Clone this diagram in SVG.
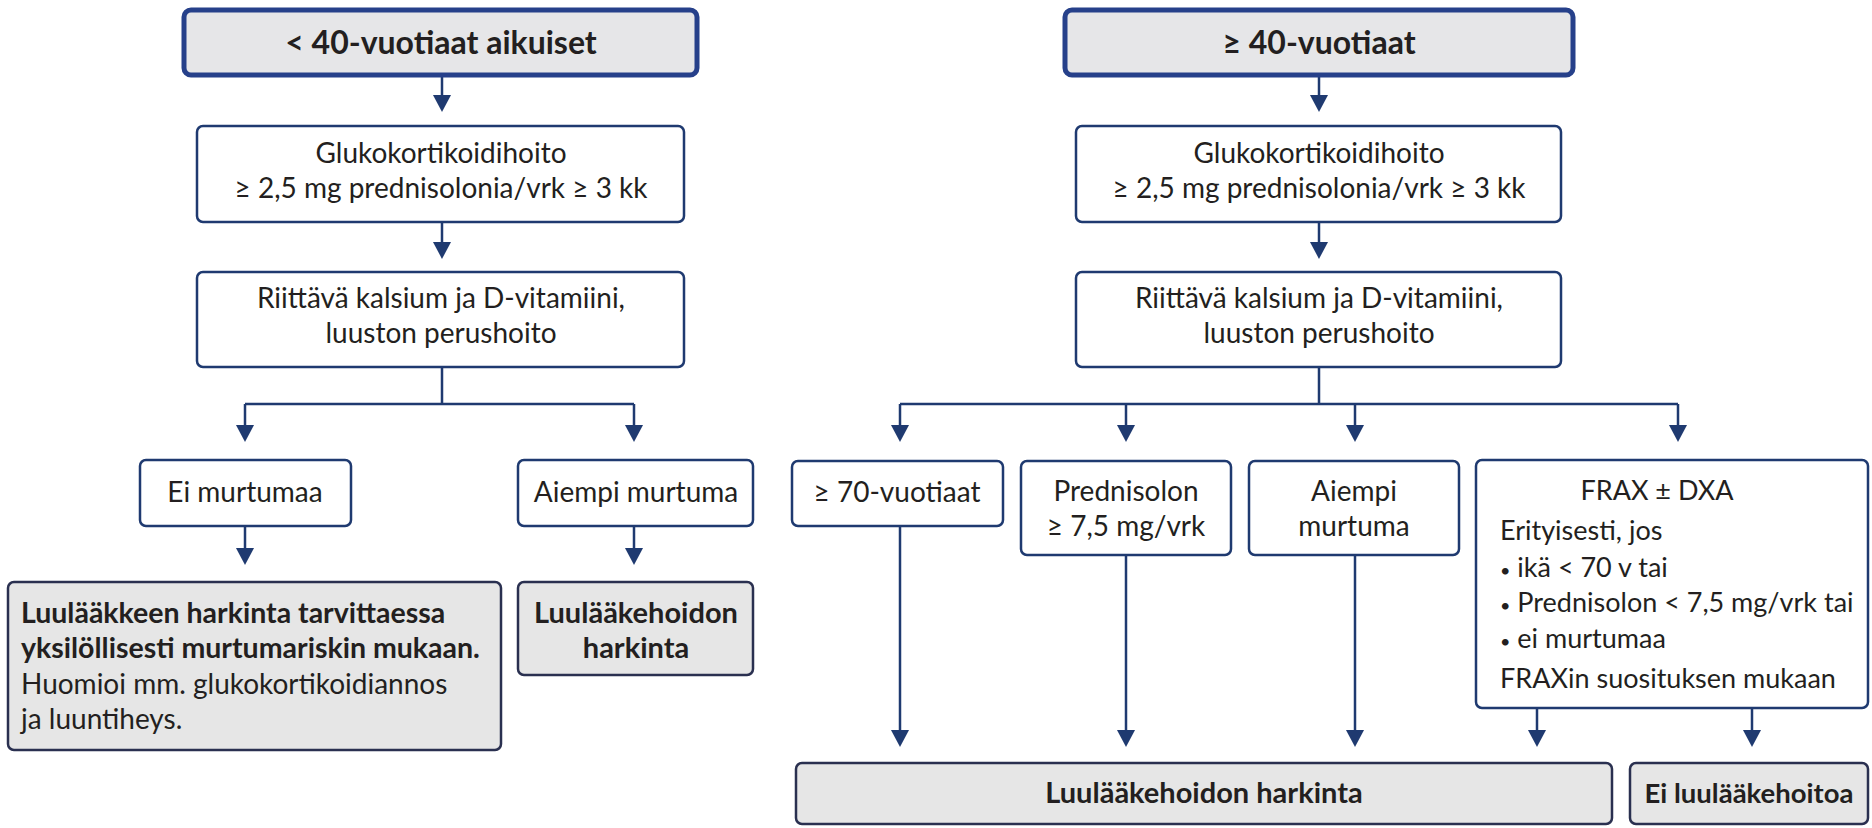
<svg xmlns="http://www.w3.org/2000/svg" width="1872" height="828" viewBox="0 0 1872 828">
<defs>
<style>
.box{fill:#ffffff;stroke:#1f3a70;stroke-width:2.5}
.head{fill:#e6e6e8;stroke:#26408a;stroke-width:5}
.res{fill:#e6e6e6;stroke:#2a3050;stroke-width:2.5}
.t{font-family:Lato,"Open Sans","Liberation Sans",sans-serif;font-size:28px;fill:#231f20}
.f{font-size:27px}
.b{font-weight:700;font-size:29px}
.bb{font-size:28.5px}
.c{text-anchor:middle}
.hd{font-size:32px}
.bl{font-size:18px}
.conn{stroke:#1f3a70;stroke-width:2.5;fill:none}
</style>
</defs>
<rect width="1872" height="828" fill="#ffffff"/>

<g id="connectors" class="conn">
<path d="M442,75 V100"/>
<path d="M442,222 V247"/>
<path d="M442,367 V404 M245,404 H634"/>
<path d="M245,404 V430"/>
<path d="M634,404 V430"/>
<path d="M245,526 V553"/>
<path d="M634,526 V553"/>
<path d="M1319,75 V100"/>
<path d="M1319,222 V247"/>
<path d="M1319,367 V404 M900,404 H1678"/>
<path d="M900,404 V430"/>
<path d="M1126,404 V430"/>
<path d="M1355,404 V430"/>
<path d="M1678,404 V430"/>
<path d="M900,526 V735"/>
<path d="M1126,555 V735"/>
<path d="M1355,555 V735"/>
<path d="M1537,708 V735"/>
<path d="M1752,708 V735"/>
</g>
<g id="arrowheads" fill="#1f3a70">
<path d="M433,95 H451 L442,112 Z"/>
<path d="M433,242 H451 L442,259 Z"/>
<path d="M236,425 H254 L245,442 Z"/>
<path d="M625,425 H643 L634,442 Z"/>
<path d="M236,548 H254 L245,565 Z"/>
<path d="M625,548 H643 L634,565 Z"/>
<path d="M1310,95 H1328 L1319,112 Z"/>
<path d="M1310,242 H1328 L1319,259 Z"/>
<path d="M891,425 H909 L900,442 Z"/>
<path d="M1117,425 H1135 L1126,442 Z"/>
<path d="M1346,425 H1364 L1355,442 Z"/>
<path d="M1669,425 H1687 L1678,442 Z"/>
<path d="M891,730 H909 L900,747 Z"/>
<path d="M1117,730 H1135 L1126,747 Z"/>
<path d="M1346,730 H1364 L1355,747 Z"/>
<path d="M1528,730 H1546 L1537,747 Z"/>
<path d="M1743,730 H1761 L1752,747 Z"/>
</g>

<g id="n-left-head">
<rect class="head" x="184" y="10" width="513" height="65" rx="7"/>
<text class="t b c hd" x="441" y="54">&lt; 40-vuotiaat aikuiset</text>
</g>
<g id="n-left-gluko">
<rect class="box" x="197" y="126" width="487" height="96" rx="6"/>
<text class="t c" x="441" y="163">Glukokortikoidihoito</text>
<text class="t c" x="441" y="198">≥ 2,5 mg prednisolonia/vrk ≥ 3 kk</text>
</g>
<g id="n-left-basic">
<rect class="box" x="197" y="272" width="487" height="95" rx="6"/>
<text class="t c" x="441" y="308">Riittävä kalsium ja D-vitamiini,</text>
<text class="t c" x="441" y="343">luuston perushoito</text>
</g>
<g id="n-left-nofrac">
<rect class="box" x="140" y="460" width="211" height="66" rx="6"/>
<text class="t c" x="245" y="502">Ei murtumaa</text>
</g>
<g id="n-left-prevfrac">
<rect class="box" x="518" y="460" width="235" height="66" rx="6"/>
<text class="t c" x="636" y="502">Aiempi murtuma</text>
</g>
<g id="n-left-indiv">
<rect class="res" x="8" y="582" width="493" height="168" rx="6"/>
<text class="t b bb" x="21" y="623">Luulääkkeen harkinta tarvittaessa</text>
<text class="t b bb" x="21" y="658">yksilöllisesti murtumariskin mukaan.</text>
<text class="t" x="21" y="694">Huomioi mm. glukokortikoidiannos</text>
<text class="t" x="21" y="729">ja luuntiheys.</text>
</g>
<g id="n-left-consider">
<rect class="res" x="518" y="582" width="235" height="93" rx="6"/>
<text class="t b c" x="636" y="623">Luulääkehoidon</text>
<text class="t b c" x="636" y="658">harkinta</text>
</g>

<g id="n-right-head">
<rect class="head" x="1065" y="10" width="508" height="65" rx="7"/>
<text class="t b c hd" x="1319" y="54">≥ 40-vuotiaat</text>
</g>
<g id="n-right-gluko">
<rect class="box" x="1076" y="126" width="485" height="96" rx="6"/>
<text class="t c" x="1319" y="163">Glukokortikoidihoito</text>
<text class="t c" x="1319" y="198">≥ 2,5 mg prednisolonia/vrk ≥ 3 kk</text>
</g>
<g id="n-right-basic">
<rect class="box" x="1076" y="272" width="485" height="95" rx="6"/>
<text class="t c" x="1319" y="308">Riittävä kalsium ja D-vitamiini,</text>
<text class="t c" x="1319" y="343">luuston perushoito</text>
</g>
<g id="n-right-70">
<rect class="box" x="792" y="461" width="211" height="65" rx="6"/>
<text class="t c" x="897" y="502">≥ 70-vuotiaat</text>
</g>
<g id="n-right-pred">
<rect class="box" x="1021" y="461" width="210" height="94" rx="6"/>
<text class="t c" x="1126" y="501">Prednisolon</text>
<text class="t c" x="1126" y="536">≥ 7,5 mg/vrk</text>
</g>
<g id="n-right-prevfrac">
<rect class="box" x="1249" y="461" width="210" height="94" rx="6"/>
<text class="t c" x="1354" y="501">Aiempi</text>
<text class="t c" x="1354" y="536">murtuma</text>
</g>
<g id="n-right-frax">
<rect class="box" x="1476" y="460" width="392" height="248" rx="6"/>
<text class="t f c" x="1657" y="500">FRAX ± DXA</text>
<text class="t f" x="1500" y="540">Erityisesti, jos</text>
<text class="t f" x="1500" y="577"><tspan class="bl">•</tspan> ikä &lt; 70 v tai</text>
<text class="t f" x="1500" y="612"><tspan class="bl">•</tspan> Prednisolon &lt; 7,5 mg/vrk tai</text>
<text class="t f" x="1500" y="648"><tspan class="bl">•</tspan> ei murtumaa</text>
<text class="t f" x="1500" y="688">FRAXin suosituksen mukaan</text>
</g>
<g id="n-right-consider">
<rect class="res" x="796" y="763" width="816" height="61" rx="6"/>
<text class="t b c" x="1204" y="803">Luulääkehoidon harkinta</text>
</g>
<g id="n-right-none">
<rect class="res" x="1630" y="763" width="238" height="61" rx="6"/>
<text class="t b c" x="1749" y="803" style="font-size:27.5px">Ei luulääkehoitoa</text>
</g>
</svg>
